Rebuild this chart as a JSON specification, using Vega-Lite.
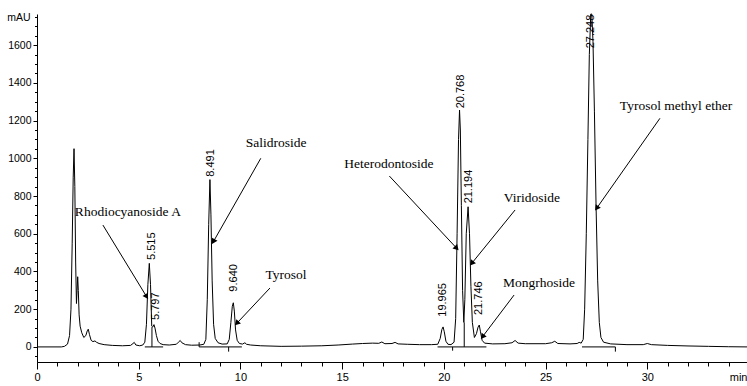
{
  "$schema": "https://vega.github.io/schema/vega-lite/v6.json",
  "width": 710,
  "height": 348,
  "autosize": {"type": "none"},
  "padding": {"left": 37, "top": 14, "right": 0, "bottom": 24},
  "background": "white",
  "config": {"view": {"stroke": null}},
  "resolve": {"axis": {"x": "independent", "y": "independent"}},
  "datasets": {
    "trace": [
      {"t":0,"v":0},{"t":1.2,"v":0},{"t":1.35,"v":3},{"t":1.5,"v":15},{"t":1.6,"v":60},{"t":1.67,"v":200},{"t":1.73,"v":550},{"t":1.78,"v":900},{"t":1.82,"v":1051},{"t":1.86,"v":850},{"t":1.9,"v":450},{"t":1.94,"v":230},{"t":1.97,"v":300},{"t":2.0,"v":372},{"t":2.03,"v":300},{"t":2.07,"v":170},{"t":2.12,"v":110},{"t":2.2,"v":75},{"t":2.3,"v":50},{"t":2.4,"v":60},{"t":2.47,"v":85},{"t":2.52,"v":94},{"t":2.58,"v":65},{"t":2.66,"v":35},{"t":2.75,"v":28},{"t":2.85,"v":32},{"t":2.92,"v":25},{"t":3.05,"v":18},{"t":3.3,"v":12},{"t":3.7,"v":8},{"t":4.2,"v":6},{"t":4.6,"v":8},{"t":4.72,"v":18},{"t":4.78,"v":24},{"t":4.86,"v":10},{"t":5.05,"v":6},{"t":5.2,"v":10},{"t":5.3,"v":25},{"t":5.38,"v":120},{"t":5.45,"v":330},{"t":5.52,"v":443},{"t":5.58,"v":330},{"t":5.64,"v":110},{"t":5.69,"v":105},{"t":5.75,"v":118},{"t":5.8,"v":100},{"t":5.87,"v":60},{"t":5.95,"v":30},{"t":6.05,"v":18},{"t":6.2,"v":12},{"t":6.5,"v":10},{"t":6.85,"v":14},{"t":6.95,"v":25},{"t":7.04,"v":34},{"t":7.12,"v":22},{"t":7.3,"v":12},{"t":7.6,"v":9},{"t":8.0,"v":10},{"t":8.2,"v":14},{"t":8.3,"v":40},{"t":8.37,"v":250},{"t":8.44,"v":650},{"t":8.5,"v":887},{"t":8.55,"v":700},{"t":8.61,"v":350},{"t":8.68,"v":120},{"t":8.76,"v":45},{"t":8.9,"v":22},{"t":9.1,"v":15},{"t":9.35,"v":16},{"t":9.45,"v":40},{"t":9.53,"v":130},{"t":9.6,"v":215},{"t":9.65,"v":234},{"t":9.7,"v":190},{"t":9.76,"v":90},{"t":9.84,"v":35},{"t":9.95,"v":18},{"t":10.1,"v":15},{"t":10.22,"v":22},{"t":10.3,"v":14},{"t":10.5,"v":10},{"t":11.0,"v":6},{"t":12.0,"v":3},{"t":13.0,"v":4},{"t":14.0,"v":6},{"t":14.8,"v":10},{"t":15.5,"v":15},{"t":16.0,"v":18},{"t":16.5,"v":20},{"t":16.8,"v":19},{"t":16.95,"v":26},{"t":17.1,"v":17},{"t":17.45,"v":18},{"t":17.6,"v":24},{"t":17.75,"v":16},{"t":18.2,"v":14},{"t":18.8,"v":12},{"t":19.4,"v":12},{"t":19.7,"v":14},{"t":19.82,"v":45},{"t":19.9,"v":92},{"t":19.96,"v":106},{"t":20.02,"v":80},{"t":20.1,"v":30},{"t":20.2,"v":14},{"t":20.35,"v":12},{"t":20.5,"v":25},{"t":20.58,"v":150},{"t":20.65,"v":600},{"t":20.72,"v":1100},{"t":20.77,"v":1256},{"t":20.81,"v":1150},{"t":20.86,"v":750},{"t":20.92,"v":300},{"t":20.98,"v":130},{"t":21.03,"v":250},{"t":21.1,"v":600},{"t":21.19,"v":743},{"t":21.26,"v":600},{"t":21.33,"v":320},{"t":21.4,"v":130},{"t":21.5,"v":50},{"t":21.6,"v":70},{"t":21.68,"v":105},{"t":21.74,"v":116},{"t":21.8,"v":80},{"t":21.88,"v":35},{"t":22.0,"v":20},{"t":22.4,"v":16},{"t":23.0,"v":17},{"t":23.35,"v":22},{"t":23.5,"v":34},{"t":23.65,"v":20},{"t":24.0,"v":17},{"t":25.0,"v":17},{"t":25.3,"v":22},{"t":25.45,"v":30},{"t":25.6,"v":18},{"t":26.2,"v":16},{"t":26.55,"v":18},{"t":26.65,"v":24},{"t":26.75,"v":20},{"t":26.85,"v":40},{"t":26.92,"v":200},{"t":27.0,"v":600},{"t":27.08,"v":1100},{"t":27.15,"v":1550},{"t":27.22,"v":1765},{"t":27.27,"v":1765},{"t":27.33,"v":1620},{"t":27.4,"v":1250},{"t":27.48,"v":750},{"t":27.56,"v":350},{"t":27.64,"v":130},{"t":27.72,"v":50},{"t":27.85,"v":25},{"t":28.2,"v":16},{"t":29.0,"v":12},{"t":29.8,"v":12},{"t":30.0,"v":18},{"t":30.2,"v":12},{"t":31.0,"v":8},{"t":32.0,"v":5},{"t":33.0,"v":3},{"t":34.0,"v":1},{"t":34.9,"v":0}
    ],
    "segments": [
      {"t1":5.3,"t2":6.2,"v1":0,"v2":0},
      {"t1":5.65,"t2":5.65,"v1":0,"v2":105},
      {"t1":7.97,"t2":10.07,"v1":0,"v2":0},
      {"t1":7.97,"t2":7.97,"v1":0,"v2":25},
      {"t1":9.42,"t2":9.42,"v1":0,"v2":-25},
      {"t1":19.69,"t2":22.09,"v1":0,"v2":0},
      {"t1":20.43,"t2":20.43,"v1":0,"v2":-20},
      {"t1":21.0,"t2":21.0,"v1":0,"v2":130},
      {"t1":26.79,"t2":28.43,"v1":0,"v2":0},
      {"t1":28.43,"t2":28.43,"v1":0,"v2":-25}
    ],
    "arrows": [
      {"t1":3.24,"v1":646,"t2":5.39,"v2":266},
      {"t1":11.0,"v1":1000,"t2":8.67,"v2":558},
      {"t1":11.45,"v1":312,"t2":9.82,"v2":125},
      {"t1":17.32,"v1":906,"t2":20.63,"v2":523},
      {"t1":23.5,"v1":726,"t2":21.37,"v2":443},
      {"t1":23.45,"v1":275,"t2":21.9,"v2":54},
      {"t1":30.62,"v1":1212,"t2":27.51,"v2":735}
    ],
    "compounds": [
      {"t":4.47,"v":715,"name":"Rhodiocyanoside A"},
      {"t":11.75,"v":1081,"name":"Salidroside"},
      {"t":12.24,"v":381,"name":"Tyrosol"},
      {"t":17.3,"v":970,"name":"Heterodontoside"},
      {"t":24.33,"v":789,"name":"Viridoside"},
      {"t":24.68,"v":339,"name":"Mongrhoside"},
      {"t":31.41,"v":1277,"name":"Tyrosol methyl ether"}
    ],
    "rt": [
      {"t":5.64,"v":461,"label":"5.515"},
      {"t":5.85,"v":143,"label":"5.797"},
      {"t":8.54,"v":902,"label":"8.491"},
      {"t":9.68,"v":293,"label":"9.640"},
      {"t":19.94,"v":160,"label":"19.965"},
      {"t":20.83,"v":1265,"label":"20.768"},
      {"t":21.23,"v":761,"label":"21.194"},
      {"t":21.74,"v":169,"label":"21.746"},
      {"t":27.22,"v":1583,"label":"27.248"}
    ]
  },
  "layer": [
    {
      "data": {"name": "trace"},
      "mark": {"type": "line", "color": "black", "strokeWidth": 1, "interpolate": "linear"},
      "encoding": {
        "x": {
          "field": "t", "type": "quantitative",
          "scale": {"domain": [0, 34.9], "nice": false, "zero": false},
          "axis": {
            "orient": "bottom",
            "values": [0, 5, 10, 15, 20, 25, 30],
            "tickSize": 7,
            "grid": false, "domainColor": "black", "tickColor": "black", "domainWidth": 1, "tickWidth": 1,
            "labelFont": "Liberation Sans Narrow, Arial Narrow, Liberation Sans", "labelFontSize": 11, "labelColor": "black",
            "labelPadding": 2, "labelOverlap": false, "labelFlush": false,
            "title": "min", "titleFont": "Liberation Sans Narrow, Arial Narrow, Liberation Sans", "titleFontSize": 11, "titleFontWeight": "normal",
            "titleColor": "black", "titleAnchor": "end", "titleAlign": "right", "titleBaseline": "middle", "titleX": 710, "titleY": 15
          }
        },
        "y": {
          "field": "v", "type": "quantitative",
          "scale": {"domain": [-80, 1765], "nice": false, "zero": false},
          "axis": {
            "orient": "left",
            "values": [0, 200, 400, 600, 800, 1000, 1200, 1400, 1600],
            "tickSize": 4,
            "format": "d",
            "grid": false, "domainColor": "black", "tickColor": "black", "domainWidth": 1, "tickWidth": 1,
            "labelFont": "Liberation Sans Narrow, Arial Narrow, Liberation Sans", "labelFontSize": 10.5, "labelColor": "black",
            "labelPadding": 2, "labelOverlap": false, "labelFlush": false,
            "title": "mAU", "titleAngle": 0, "titleFont": "Liberation Sans Narrow, Arial Narrow, Liberation Sans", "titleFontSize": 10.5,
            "titleFontWeight": "normal", "titleColor": "black", "titleAlign": "right", "titleBaseline": "middle", "titleX": -7, "titleY": 3
          }
        }
      }
    },
    {
      "data": {"name": "segments"},
      "mark": {"type": "rule", "color": "black", "strokeWidth": 1},
      "encoding": {
        "x": {"field": "t1", "type": "quantitative",
          "axis": {"orient": "bottom", "values": [0,1,2,3,4,5,6,7,8,9,10,11,12,13,14,15,16,17,18,19,20,21,22,23,24,25,26,27,28,29,30,31,32,33,34],
            "labels": false, "domain": false, "grid": false, "tickSize": 4, "tickColor": "black", "tickWidth": 1, "title": null}},
        "x2": {"field": "t2"},
        "y": {"field": "v1", "type": "quantitative",
          "axis": {"orient": "left", "values": [-50,0,50,100,150,200,250,300,350,400,450,500,550,600,650,700,750,800,850,900,950,1000,1050,1100,1150,1200,1250,1300,1350,1400,1450,1500,1550,1600,1650,1700,1750],
            "labels": false, "domain": false, "grid": false, "tickSize": 2.5, "tickColor": "black", "tickWidth": 1, "title": null}},
        "y2": {"field": "v2"}
      }
    },
    {
      "data": {"name": "arrows"},
      "mark": {"type": "rule", "color": "black", "strokeWidth": 1},
      "encoding": {
        "x": {"field": "t1", "type": "quantitative", "axis": null},
        "x2": {"field": "t2"},
        "y": {"field": "v1", "type": "quantitative", "axis": null},
        "y2": {"field": "v2"}
      }
    },
    {
      "data": {"name": "arrows"},
      "transform": [
        {"calculate": "atan2((datum.t2 - datum.t1) * 20.344, (datum.v2 - datum.v1) * 0.18862) * 180 / PI", "as": "ang"}
      ],
      "mark": {"type": "point", "shape": "triangle-up", "filled": true, "color": "black", "size": 40, "opacity": 1, "strokeWidth": 0},
      "encoding": {
        "x": {"field": "t2", "type": "quantitative", "axis": null},
        "y": {"field": "v2", "type": "quantitative", "axis": null},
        "angle": {"field": "ang", "type": "quantitative", "scale": null}
      }
    },
    {
      "data": {"name": "compounds"},
      "mark": {"type": "text", "font": "Liberation Serif", "fontSize": 13.5, "color": "black", "align": "center", "baseline": "middle"},
      "encoding": {
        "x": {"field": "t", "type": "quantitative", "axis": null},
        "y": {"field": "v", "type": "quantitative", "axis": null},
        "text": {"field": "name"}
      }
    },
    {
      "data": {"name": "rt"},
      "mark": {"type": "text", "font": "Liberation Sans", "fontSize": 11, "color": "black", "align": "left", "baseline": "middle", "angle": 270},
      "encoding": {
        "x": {"field": "t", "type": "quantitative", "axis": null},
        "y": {"field": "v", "type": "quantitative", "axis": null},
        "text": {"field": "label"}
      }
    }
  ]
}
